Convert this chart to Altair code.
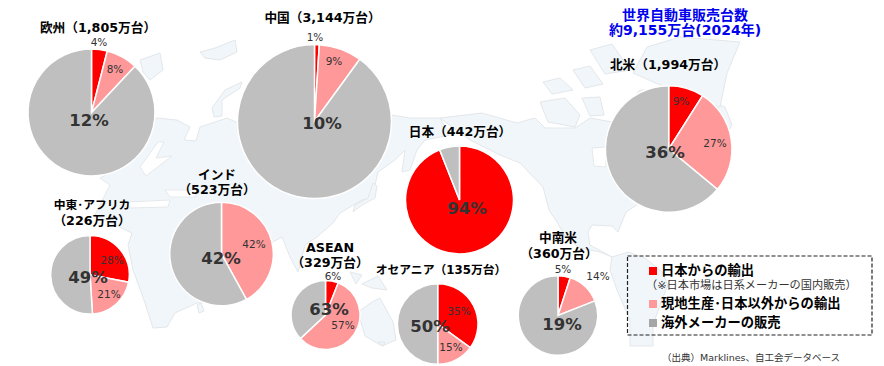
import altair as alt
import pandas as pd

# ---- chart values (percent of each region's sales) ----
regions = ["欧州", "中国", "日本", "北米", "中東・アフリカ", "インド", "ASEAN", "オセアニア", "中南米"]
sales = [1805, 3144, 442, 1994, 226, 523, 329, 135, 360]
from_japan = [4, 1, 94, 9, 28, 0, 6, 35, 5]
local_prod = [8, 9, 0, 27, 21, 42, 57, 15, 14]
overseas = [88, 90, 6, 64, 51, 58, 37, 50, 81]
japan_share_labels = ["12%", "10%", "94%", "36%", "49%", "42%", "63%", "50%", "19%"]
series_names = ["日本からの輸出", "現地生産･日本以外からの輸出", "海外メーカーの販売"]
series_colors = ["#ff0000", "#ff9999", "#bfbfbf"]

# ---- layout of the pies (reference pixels) ----
centre_x = [91.5, 314.5, 459.5, 668.7, 90, 221.5, 325.5, 437.7, 558]
centre_y = [112.5, 121.5, 200, 149, 274.8, 254, 315, 324, 315.5]
radii = [63.5, 77, 54, 63.3, 39.3, 51.8, 34.5, 40.3, 39.7]

W, H = 868, 358
FONT = "DejaVu Sans, Noto Sans CJK JP"
FX = alt.Scale(domain=[8, 8 + W], range=[0, W])
FY = alt.Scale(domain=[8, 8 + H], range=[0, H])

def X(f="x"):
    return alt.X(f + ":Q", scale=FX, axis=None)

def Y(f="y"):
    return alt.Y(f + ":Q", scale=FY, axis=None)

# ---- pale background map (rough outlines, reference pixels) ----
land = [
    # Eurasia
    [(110,185),(100,178),(125,165),(140,130),(157,118),(177,120),(190,127),(184,140),(196,141),(200,127),(227,118),(238,123),(280,110),(392,115),(410,118),(440,118),(450,135),(425,140),(417,150),(410,170),(402,172),(405,150),(395,160),(378,172),(372,198),(362,200),(340,213),(333,223),(317,237),(305,245),(298,272),(290,257),(282,237),(273,242),(240,300),(197,303),(175,313),(167,327),(153,328),(143,297),(133,270),(128,245),(132,233),(115,225),(95,215)],
    # North America
    [(440,118),(482,113),(517,123),(535,118),(545,128),(575,128),(590,118),(612,122),(640,90),(690,90),(725,107),(732,125),(700,185),(640,203),(626,212),(618,232),(612,226),(592,225),(588,232),(590,245),(612,257),(600,252),(580,248),(566,238),(557,222),(549,210),(543,187),(520,163),(500,155),(470,140)],
    # South America
    [(612,257),(628,252),(645,258),(662,272),(668,285),(660,305),(653,325),(653,346),(630,346),(630,320),(617,290),(610,270)],
    # Greenland
    [(633,73),(647,47),(680,37),(740,42),(727,73),(720,107),(700,100),(660,85)],
    # Arctic islands
    [(540,102),(565,98),(580,115),(575,127),(548,122)],
    [(543,82),(560,78),(573,90),(552,94)],
    [(573,70),(590,66),(603,84),(585,88)],
    [(590,50),(612,44),(630,70),(605,74)],
    [(582,98),(600,97),(604,115),(590,116)],
    # Novaya Zemlya, Svalbard, Franz Josef Land
    [(212,108),(225,90),(242,82),(240,88),(222,100),(222,116),(214,117)],
    [(140,60),(160,53),(163,70),(150,80),(143,72)],
    [(200,52),(215,48),(235,40),(237,52),(220,60),(205,58)],
    # Japan
    [(353,212),(362,205),(375,198),(377,186),(373,183),(368,198),(355,205)],
    # Indonesia / New Guinea
    [(350,272),(362,275),(356,284)],
    [(362,284),(378,276),(387,290),(372,288)],
    # Australia, Tasmania
    [(358,312),(372,302),(380,298),(393,322),(396,340),(382,346),(365,336)],
    [(378,342),(385,342),(383,346)],
    # Sri Lanka
    [(197,305),(201,303),(204,311),(199,313)],
]
seas = [
    [(165,190),(198,190),(195,197),(170,197)],
    [(127,202),(170,200),(168,207),(130,208)],
    [(592,148),(606,147),(606,167),(594,166)],
    [(140,167),(158,142),(164,142),(156,158),(172,156),(146,176)],
]

def features(polys):
    return [
        {"type": "Feature", "properties": {},
         "geometry": {"type": "Polygon", "coordinates": [[list(p) for p in poly] + [list(poly[0])]]}}
        for poly in polys
    ]

proj = dict(type="identity", scale=1, translate=[-8, -8])
land_layer = alt.Chart(alt.Data(values=features(land))).mark_geoshape(
    fill="#f1f6fa", stroke="#e4e7ea", strokeWidth=1).project(**proj)
sea_layer = alt.Chart(alt.Data(values=features(seas))).mark_geoshape(
    fill="#ffffff", stroke="#e6e9ec", strokeWidth=1).project(**proj)

# ---- pies ----
rows = []
for i, name in enumerate(regions):
    start = 0
    for k, v in enumerate([from_japan[i], local_prod[i], overseas[i]]):
        if v > 0:
            rows.append(dict(region=name, series=series_names[k], start=start, end=start + v,
                             cx=centre_x[i], cy=centre_y[i], r=radii[i], color=series_colors[k]))
        start += v
pie_df = pd.DataFrame(rows)
TH = alt.Scale(domain=[0, 100], range=[0, 6.283185307])
pies = alt.Chart(pie_df).mark_arc(stroke="#ffffff", strokeWidth=1.5).encode(
    x=X("cx"), y=Y("cy"),
    theta=alt.Theta("start:Q", scale=TH), theta2="end:Q",
    radius=alt.Radius("r:Q", scale=None),
    color=alt.Color("color:N", scale=None),
)

def text_layer(rows, size, weight="normal", color="#000000", align="center"):
    df = pd.DataFrame(rows, columns=["text", "x", "y"])
    return alt.Chart(df).mark_text(font=FONT, fontSize=size, fontWeight=weight, color=color,
                                   align=align, baseline="middle").encode(x=X(), y=Y(), text="text:N")

# ---- labels ----
title_rows = [
    ("欧州（1,805万台）", 98, 28), ("中国（3,144万台）", 322.5, 18), ("日本（442万台）", 460, 132),
    ("北米（1,994万台）", 668, 65), ("（226万台）", 92, 221),
    ("インド", 217, 175), ("（523万台）", 217, 190), ("ASEAN", 330, 248), ("（329万台）", 330, 263),
    ("中南米", 558, 238), ("（360万台）", 559, 254),
]
title_rows_narrow = [("中東･アフリカ", 92, 205), ("オセアニア（135万台）", 441, 270)]
small_rows = [
    ("4%", 99, 43), ("8%", 115, 70), ("1%", 315, 38), ("9%", 334, 62), ("9%", 681, 102), ("27%", 715, 144),
    ("28%", 112, 261), ("21%", 109, 295), ("42%", 254, 245), ("6%", 333, 277), ("57%", 343, 326),
    ("35%", 459, 312), ("15%", 451, 348), ("5%", 563, 270), ("14%", 598, 277),
]
big_pos = [(89, 121), (322, 124), (467, 209), (665, 153), (88, 278), (221, 259), (329, 310), (430, 327), (562, 325)]
big_rows = [(t, p[0], p[1]) for t, p in zip(japan_share_labels, big_pos)]

titles = text_layer(title_rows, 12.7, "bold")
titles_narrow = text_layer(title_rows_narrow, 11.8, "bold")
smalls = text_layer(small_rows, 10.5, color="#333333")
bigs = text_layer(big_rows, 16.5, "bold", color="#333333")
headline = text_layer([("世界自動車販売台数", 685, 15.5), ("約9,155万台(2024年)", 685, 31)], 14, "bold", "#0000ee")

# ---- legend ----
box = alt.Chart(pd.DataFrame([dict(x=627.5, x2=872, y=256, y2=335)])).mark_rect(
    fillOpacity=0, stroke="#222222", strokeWidth=1.2, strokeDash=[4, 2]
).encode(x=X(), x2="x2:Q", y=Y(), y2="y2:Q")
swatch_df = pd.DataFrame(dict(x=[653, 653, 653], y=[271, 304, 323], color=["#ff0000", "#ff9999", "#a6a6a6"]))
swatches = alt.Chart(swatch_df).mark_square(size=64, opacity=1).encode(
    x=X(), y=Y(), color=alt.Color("color:N", scale=None))
legend_text = text_layer([(series_names[0], 661, 271), (series_names[1], 661, 304), (series_names[2], 661, 323)],
                         13.3, "bold", align="left")
legend_note = text_layer([("（※日本市場は日系メーカーの国内販売）", 646, 286)], 11.2, color="#333333", align="left")
source = text_layer([("（出典）Marklines、自工会データベース", 662, 358)], 9.5, color="#333333", align="left")

chart = alt.layer(
    land_layer, sea_layer, pies, box, swatches, titles, titles_narrow, smalls, bigs, headline,
    legend_text, legend_note, source
).properties(width=W, height=H, padding=0, autosize=alt.AutoSizeParams(type="none")).configure_view(stroke=None)

chart.save("out.html", embed_options={"renderer": "svg", "actions": False})
